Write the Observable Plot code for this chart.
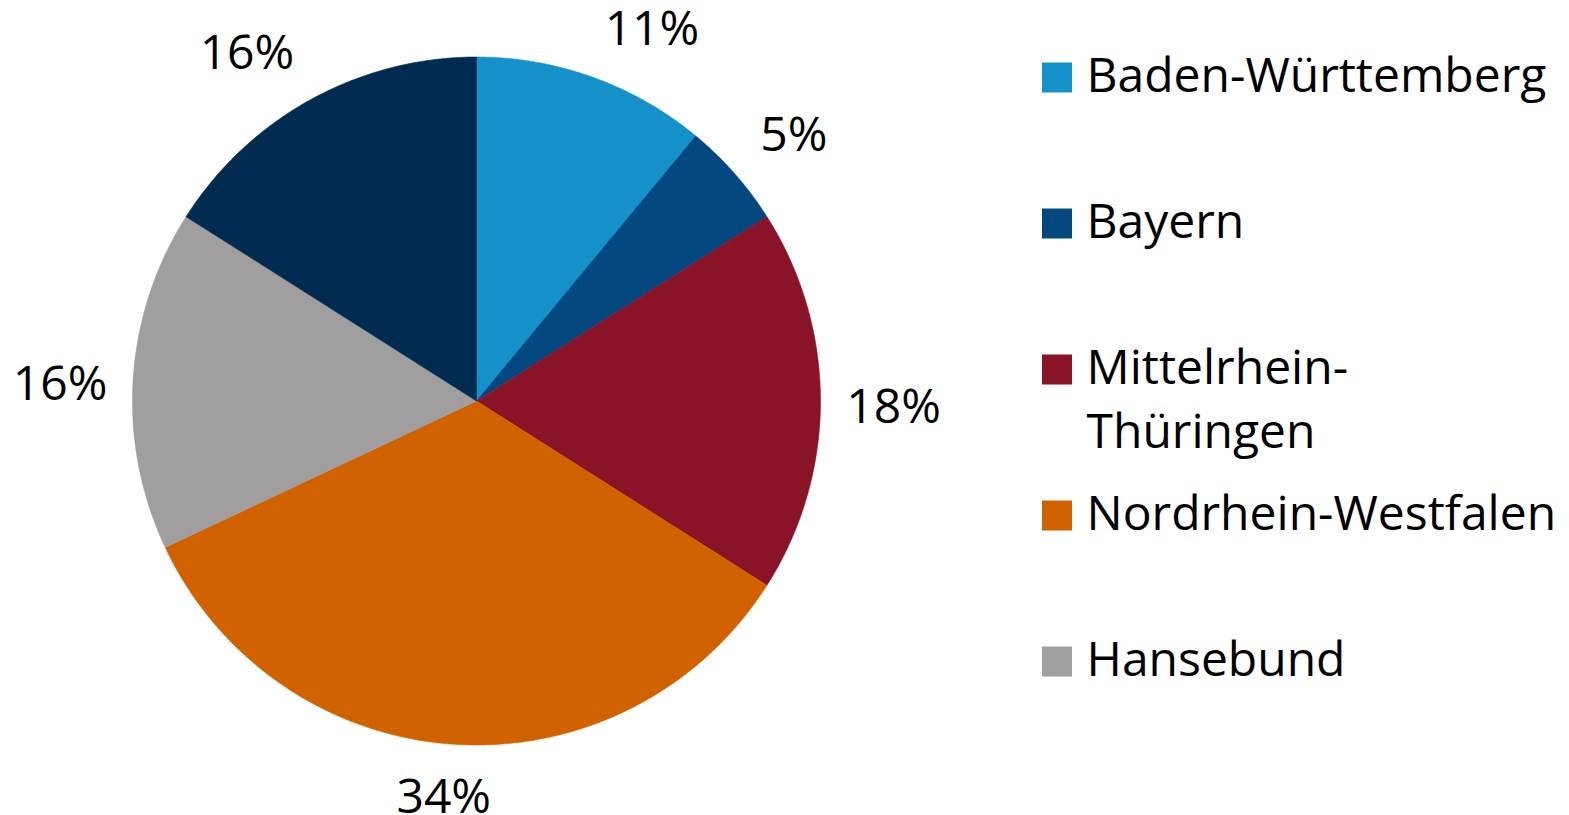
<!DOCTYPE html>
<html><head><meta charset="utf-8">
<script src="https://cdn.jsdelivr.net/npm/d3@7"></script>
<script src="https://cdn.jsdelivr.net/npm/@observablehq/plot@0.6"></script>
<style>html,body{margin:0;padding:0;background:#fff;}</style>
</head><body><div id="chart"></div>
<script>
// ---- data ----
const regions = ["Baden-Württemberg", "Bayern", "Mittelrhein-Thüringen", "Nordrhein-Westfalen", "Hansebund", "Sonstige"];
const shares = [11, 5, 18, 34, 16, 16];
const colors = ["#1591ca", "#03487f", "#891427", "#d16200", "#a09e9f", "#002b50"];
const legendRegions = ["Baden-Württemberg", "Bayern", "Mittelrhein-Thüringen", "Nordrhein-Westfalen", "Hansebund"];
const legendLabels = ["Baden-Württemberg", "Bayern", "Mittelrhein-\nThüringen", "Nordrhein-Westfalen", "Hansebund"];

// ---- layout ----
const W = 1569, H = 815, CX = 476, CY = 400.5, R = 344;
const FONT = 48;

const total = d3.sum(shares);
let acc = 0;
const slices = regions.map((name, i) => {
  const a0 = acc / total * 2 * Math.PI;
  acc += shares[i];
  const a1 = acc / total * 2 * Math.PI;
  return {name, share: shares[i], a0, a1, mid: (a0 + a1) / 2};
});

const outline = slices.flatMap(s => {
  const n = Math.max(2, Math.ceil((s.a1 - s.a0) / (Math.PI / 720)));
  const pts = [{name: s.name, u: 0, v: 0}];
  for (let k = 0; k <= n; k++) {
    const a = s.a0 + (s.a1 - s.a0) * k / n;
    pts.push({name: s.name, u: Math.sin(a), v: Math.cos(a)});
  }
  pts.push({name: s.name, u: 0, v: 0});
  return pts;
});

const labels = slices.map(s => {
  const su = Math.sin(s.mid), cv = Math.cos(s.mid);
  const la = cv > 0.3 ? "bottom" : cv < -0.3 ? "top" : "middle";
  const r = la === "middle" ? 1.075 : 1.1;
  return {
    text: s.share + "%",
    u: r * su, v: r * cv,
    ta: su > 0.15 ? "start" : su < -0.15 ? "end" : "middle",
    la
  };
});

const legendRows = legendRegions.map((name, i) => ({
  name,
  label: legendLabels[i],
  u: (1056.5 - CX) / R,
  tu: (1086 - CX) / R,
  v: (CY - (77 + 146 * i)) / R
}));

const labelMarks = [];
for (const ta of ["start", "middle", "end"]) {
  for (const la of ["top", "middle", "bottom"]) {
    const sub = labels.filter(d => d.ta === ta && d.la === la);
    if (!sub.length) continue;
    labelMarks.push(Plot.text(sub, {
      x: "u", y: "v", text: "text",
      textAnchor: ta, lineAnchor: la,
      dx: ta === "middle" ? -9 : 0,
      dy: la === "middle" ? 7 : 0,
      fontSize: FONT, fill: "#000"
    }));
  }
}

const chart = Plot.plot({
  width: W, height: H,
  margin: 0,
  style: {fontFamily: "'Open Sans', sans-serif", background: "#fff"},
  x: {domain: [-CX / R, (W - CX) / R], range: [0, W], axis: null},
  y: {domain: [-(H - CY) / R, CY / R], range: [H, 0], axis: null},
  color: {type: "ordinal", domain: regions, range: colors},
  marks: [
    Plot.line(outline, {x: "u", y: "v", z: "name", fill: "name", stroke: "name", strokeWidth: 0.6, curve: "linear"}),
    ...labelMarks,
    Plot.dot(legendRows, {x: "u", y: "v", symbol: "square", r: 30 / Math.sqrt(Math.PI), fill: "name", stroke: null}),
    Plot.text(legendRows, {
      x: "tu", y: "v", text: "label",
      textAnchor: "start", lineAnchor: "top",
      lineHeight: 65 / FONT, dy: 14 - 0.71 * 65,
      fontSize: FONT, fill: "#000"
    })
  ]
});
document.getElementById("chart").appendChild(chart);
</script>
</body></html>
